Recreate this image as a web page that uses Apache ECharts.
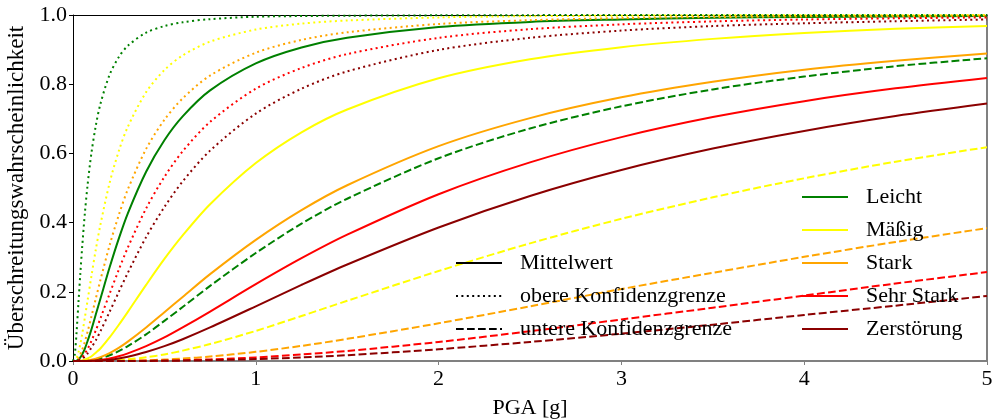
<!DOCTYPE html>
<html><head><meta charset="utf-8">
<script src="https://cdn.jsdelivr.net/npm/echarts@6/dist/echarts.min.js"></script>
<style>html,body{margin:0;padding:0;background:#fff}#c{width:999px;height:420px}</style>
</head><body><div id="c"></div>
<script>
// PGA sample points [g]
const pga = [0, 0.01, 0.02, 0.03, 0.04, 0.05, 0.065, 0.08, 0.1, 0.125, 0.15, 0.2, 0.25, 0.3, 0.4, 0.5, 0.6, 0.75, 1.0, 1.25, 1.5, 2.0, 2.5, 3.0, 3.5, 4.0, 4.5, 5.0];

// Leicht
const leichtMean  = [0, 0.0001, 0.0012, 0.0045, 0.0105, 0.019, 0.036, 0.058, 0.090, 0.135, 0.180, 0.270, 0.353, 0.427, 0.547, 0.638, 0.707, 0.782, 0.860, 0.906, 0.934, 0.965, 0.980, 0.987, 0.992, 0.994, 0.996, 0.997];
const leichtUpper = [0, 0.020, 0.087, 0.170, 0.252, 0.328, 0.428, 0.510, 0.598, 0.681, 0.743, 0.827, 0.878, 0.911, 0.949, 0.968, 0.979, 0.988, 0.995, 0.997, 0.998, 0.999, 0.9996, 0.9998, 0.9999, 1.0, 1.0, 1.0];
const leichtLower = [0, 0, 0, 0, 0, 0.0002, 0.0005, 0.0011, 0.0023, 0.0045, 0.0076, 0.0165, 0.0285, 0.043, 0.077, 0.116, 0.156, 0.217, 0.312, 0.397, 0.469, 0.586, 0.672, 0.736, 0.785, 0.822, 0.852, 0.875];
// Mäßig
const maessigMean  = [0, 0, 0.0001, 0.0003, 0.0008, 0.0017, 0.0039, 0.0072, 0.013, 0.024, 0.036, 0.068, 0.104, 0.142, 0.220, 0.295, 0.363, 0.453, 0.572, 0.661, 0.727, 0.817, 0.872, 0.907, 0.931, 0.948, 0.960, 0.968];
const maessigUpper = [0, 0.0009, 0.0084, 0.025, 0.049, 0.077, 0.126, 0.176, 0.243, 0.323, 0.394, 0.514, 0.606, 0.677, 0.777, 0.841, 0.883, 0.923, 0.958, 0.975, 0.984, 0.993, 0.9965, 0.998, 0.9988, 0.9993, 0.9995, 0.9997];
const maessigLower = [0, 0, 0, 0, 0, 0, 0, 0, 0.0001, 0.0002, 0.0005, 0.0013, 0.0027, 0.0047, 0.0106, 0.019, 0.030, 0.049, 0.087, 0.130, 0.174, 0.260, 0.340, 0.411, 0.473, 0.528, 0.576, 0.618];
// Stark
const starkMean  = [0, 0, 0, 0, 0.0002, 0.0004, 0.0009, 0.0018, 0.0036, 0.0069, 0.011, 0.023, 0.038, 0.056, 0.097, 0.141, 0.185, 0.251, 0.350, 0.436, 0.508, 0.621, 0.702, 0.762, 0.807, 0.842, 0.868, 0.889];
const starkUpper = [0, 0.0002, 0.0025, 0.0085, 0.0185, 0.032, 0.056, 0.085, 0.127, 0.181, 0.234, 0.334, 0.421, 0.496, 0.613, 0.697, 0.759, 0.825, 0.891, 0.928, 0.950, 0.974, 0.985, 0.991, 0.994, 0.996, 0.997, 0.998];
const starkLower = [0, 0, 0, 0, 0, 0, 0, 0, 0, 0, 0.0001, 0.0002, 0.0004, 0.0008, 0.002, 0.0041, 0.007, 0.0128, 0.0264, 0.0437, 0.064, 0.109, 0.158, 0.208, 0.255, 0.301, 0.344, 0.384];
// Sehr Stark
const sehrStarkMean  = [0, 0, 0, 0, 0, 0, 0.0001, 0.0003, 0.0008, 0.0017, 0.003, 0.0073, 0.0136, 0.022, 0.043, 0.068, 0.097, 0.143, 0.222, 0.297, 0.365, 0.482, 0.574, 0.647, 0.705, 0.751, 0.788, 0.818];
const sehrStarkUpper = [0, 0, 0.0006, 0.0024, 0.0058, 0.011, 0.022, 0.035, 0.057, 0.089, 0.123, 0.194, 0.263, 0.328, 0.441, 0.532, 0.606, 0.691, 0.787, 0.847, 0.887, 0.934, 0.959, 0.973, 0.9815, 0.987, 0.9905, 0.993];
const sehrStarkLower = [0, 0, 0, 0, 0, 0, 0, 0, 0, 0, 0, 0, 0.0001, 0.0002, 0.0006, 0.0012, 0.0023, 0.0046, 0.0104, 0.019, 0.029, 0.055, 0.086, 0.120, 0.154, 0.189, 0.224, 0.257];
// Zerstörung
const zerstMean  = [0, 0, 0, 0, 0, 0, 0.0001, 0.0002, 0.0004, 0.0008, 0.0015, 0.0039, 0.0075, 0.0125, 0.026, 0.043, 0.063, 0.097, 0.158, 0.220, 0.279, 0.386, 0.477, 0.552, 0.614, 0.665, 0.708, 0.744];
const zerstUpper = [0, 0, 0.0003, 0.0013, 0.0033, 0.0064, 0.013, 0.022, 0.038, 0.060, 0.086, 0.142, 0.199, 0.255, 0.358, 0.445, 0.519, 0.608, 0.715, 0.787, 0.837, 0.899, 0.934, 0.955, 0.968, 0.976, 0.982, 0.987];
const zerstLower = [0, 0, 0, 0, 0, 0, 0, 0, 0, 0, 0, 0, 0, 0.0001, 0.0002, 0.0006, 0.0011, 0.0022, 0.0055, 0.0103, 0.0167, 0.034, 0.055, 0.079, 0.105, 0.133, 0.160, 0.188];

const stateNames = ['Leicht', 'Mäßig', 'Stark', 'Sehr Stark', 'Zerstörung'];
const stateColors = ['#008000', '#ffff00', '#ffa500', '#ff0000', '#8b0000'];
const styleNames = ['Mittelwert', 'obere Konfidenzgrenze', 'untere Konfidenzgrenze'];
const curves = [
  [leichtMean, leichtUpper, leichtLower],
  [maessigMean, maessigUpper, maessigLower],
  [starkMean, starkUpper, starkLower],
  [sehrStarkMean, sehrStarkUpper, sehrStarkLower],
  [zerstMean, zerstUpper, zerstLower]
];

const FONT = '"Liberation Serif", "DejaVu Serif", serif';
const dashTypes = ['solid', [2, 3.4], [7.7, 3.3]];
const W = 2;

const series = [];
curves.forEach((set, i) => {
  set.forEach((vals, k) => {
    series.push({
      type: 'line',
      name: k === 0 ? stateNames[i] : stateNames[i] + ' ' + styleNames[k],
      data: pga.map((x, j) => [x, vals[j]]),
      showSymbol: false, symbol: 'none', smooth: 0.3,
      lineStyle: { color: stateColors[i], width: W, type: dashTypes[k], cap: 'butt', join: 'round' },
      itemStyle: { color: stateColors[i] },
      silent: true, animation: false, z: 2
    });
  });
});
styleNames.forEach((n, k) => {
  series.push({
    type: 'line', name: n, data: [], symbol: 'none',
    lineStyle: { color: '#000', width: W, type: dashTypes[k] },
    itemStyle: { color: '#000' }, animation: false
  });
});

const legendText = { fontFamily: FONT, fontSize: 22, color: '#000', lineHeight: 22, padding: [0, 0, 0, 13] };
const hiddenSymbol = { color: 'rgba(0,0,0,0)', borderColor: 'rgba(0,0,0,0)', borderWidth: 0, opacity: 0 };

const chart = echarts.init(document.getElementById('c'), null, { renderer: 'canvas' });
chart.setOption({
  animation: false,
  backgroundColor: '#fff',
  grid: { left: 73, right: 12, top: 15, bottom: 59, containLabel: false, outerBoundsMode: 'none' },
  legend: [
    { data: styleNames, orient: 'vertical', left: 450, top: 247, itemWidth: 46, itemHeight: 14, itemGap: 11,
      selectedMode: false, itemStyle: hiddenSymbol, textStyle: legendText },
    { data: stateNames, orient: 'vertical', left: 796, top: 181, itemWidth: 46, itemHeight: 14, itemGap: 11,
      selectedMode: false, itemStyle: hiddenSymbol, textStyle: legendText }
  ],
  xAxis: [
    { type: 'value', min: 0, max: 5, interval: 1, position: 'bottom',
      name: 'PGA [g]', nameLocation: 'middle', nameGap: 36,
      nameTextStyle: { fontFamily: FONT, fontSize: 22, color: '#000' },
      axisLine: { onZero: false, lineStyle: { color: '#808080', width: 2 } },
      axisTick: { show: true, length: 4, lineStyle: { color: '#808080' } },
      axisLabel: { fontFamily: FONT, fontSize: 22, color: '#000', margin: 7 },
      splitLine: { show: false } },
    { type: 'value', min: 0, max: 5, interval: 1, position: 'top',
      axisLine: { onZero: false, lineStyle: { color: '#000', width: 1 } },
      axisTick: { show: false }, axisLabel: { show: false }, splitLine: { show: false } }
  ],
  yAxis: [
    { type: 'value', min: 0, max: 1, interval: 0.2, position: 'left',
      name: 'Überschreitungswahrscheinlichkeit', nameLocation: 'middle', nameGap: 43,
      nameTextStyle: { fontFamily: FONT, fontSize: 23, color: '#000' },
      axisLine: { show: true, onZero: false, lineStyle: { color: '#000', width: 1 } },
      axisTick: { show: true, length: 4, lineStyle: { color: '#000' } },
      axisLabel: { fontFamily: FONT, fontSize: 22, color: '#000', margin: 6, formatter: v => v.toFixed(1) },
      splitLine: { show: false } },
    { type: 'value', min: 0, max: 1, interval: 0.2, position: 'right',
      axisLine: { show: true, onZero: false, lineStyle: { color: '#808080', width: 2 } },
      axisTick: { show: false }, axisLabel: { show: false }, splitLine: { show: false } }
  ],
  series: series
});
</script></body></html>
